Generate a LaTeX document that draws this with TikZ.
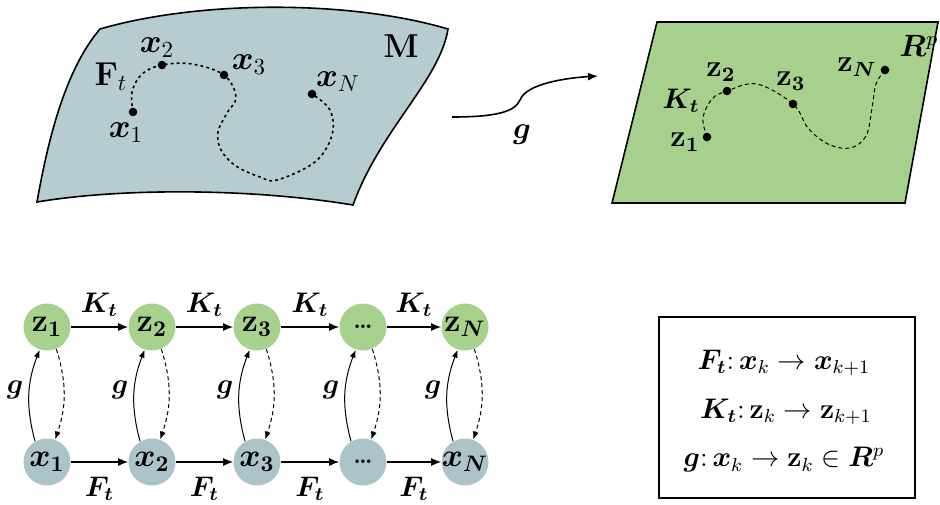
\documentclass[tikz,border=0pt]{standalone}
\usepackage{amsmath,bm}
\usetikzlibrary{arrows.meta}
\definecolor{manif}{HTML}{B7CCD1}
\definecolor{plane}{HTML}{A8D08D}
\definecolor{zgreen}{HTML}{A9D18E}
\definecolor{xgray}{HTML}{ADC3CA}
\begin{document}
\begin{tikzpicture}[x=0.5pt,y=-0.5pt,
  lbl/.style={font=\Large, inner sep=0pt, scale=1.15},
  blbl/.style={font=\large, inner sep=0pt, scale=1.18},
  plbl/.style={font=\large, inner sep=0pt, scale=1.28},
  dotpt/.style={fill=black, circle, inner sep=0pt, minimum size=4.3pt},
  znode/.style={circle, fill=zgreen, minimum size=23.5pt, inner sep=0pt},
  xnode/.style={circle, fill=xgray, minimum size=23.5pt, inner sep=0pt},
  ntext/.style={font=\Large, inner sep=0pt, scale=1.12},
  harr/.style={-{Latex[length=5pt,width=4pt]}, line width=0.6pt},
  garr/.style={-{Latex[length=4pt,width=3pt]}, line width=0.5pt},
  darr/.style={-{Latex[length=4pt,width=3pt]}, line width=0.5pt, dash pattern=on 2pt off 1.5pt},
  dotline/.style={line width=0.8pt, dash pattern=on 1.4pt off 1.6pt},
  dashline/.style={line width=0.5pt, dash pattern=on 2pt off 1.5pt}]
\useasboundingbox (0,0) rectangle (940,504);

% manifold
\draw[fill=manif, line width=0.8pt] (100,29) .. controls (200,0) and (350,0) .. (448,29)
  .. controls (440,80) and (380,130) .. (353,205)
  .. controls (250,188) and (120,188) .. (37,202)
  .. controls (48,140) and (65,70) .. (100,29) -- cycle;
\draw[dotline] plot[smooth, tension=0.6] coordinates {(133,112) (132,92) (142,74) (162,65) (192,64) (224,75) (236,97) (227,113) (218,132) (221,150) (236,166) (260,177) (277,180) (315,162) (332,135) (330,110) (312,94)};
\node[dotpt] (x1p) at (133,112) {};
\node[dotpt] (x2p) at (162,65) {};
\node[dotpt] (x3p) at (224,75) {};
\node[dotpt] (xNp) at (312,94) {};
\node[lbl] (lx1) at (126,133) {$\bm{x}_1$};
\node[lbl] (lx2) at (157,48) {$\bm{x}_2$};
\node[lbl] (lx3) at (249,65) {$\bm{x}_3$};
\node[lbl] (lxN) at (338,82) {$\bm{x}_N$};
\node[lbl] (lF) at (111,77) {$\mathbf{F}_t$};
\node[lbl] (lM) at (401,46) {$\mathbf{M}$};

% mapping arrow g
\coordinate (gs) at (452,117);
\coordinate (ge) at (598,76);
\draw[-{Latex[length=5pt,width=4pt]}, line width=0.8pt] (gs) .. controls (495,117) and (515,112) .. (520,100)
  .. controls (526,84) and (565,78) .. (ge);
\node[plbl] (lg) at (522,135) {$\bm{g}$};

% plane
\draw[fill=plane, line width=0.8pt] (657,22) -- (938,22) -- (905,203) -- (612,203) -- cycle;
\draw[dashline] plot[smooth, tension=0.6] coordinates {(707,137) (703,118) (712,99) (727,91) (757,84) (793,104) (808,128) (828,144) (850,148) (866,136) (872,108) (876,84) (885,70)};
\node[dotpt] (z1p) at (707,137) {};
\node[dotpt] (z2p) at (727,91) {};
\node[dotpt] (z3p) at (793,104) {};
\node[dotpt] (zNp) at (885,70) {};
\node[plbl] (lz1) at (685,142) {$\mathbf{z}_{\mathbf{1}}$};
\node[plbl] (lz2) at (721,72) {$\mathbf{z}_{\mathbf{2}}$};
\node[plbl] (lz3) at (791,81) {$\mathbf{z}_{\mathbf{3}}$};
\node[plbl] (lzN) at (857,67) {$\mathbf{z}_{\bm{N}}$};
\node[blbl] (lK) at (681,101) {$\bm{K_t}$};
\node[plbl] (lR) at (919,46) {$\bm{R}^{p}$};

% chain
\foreach \i/\px/\zl/\xl in {1/47/{$\mathbf{z}_{\mathbf{1}}$}/{$\bm{x}_{\mathbf{1}}$},
                            2/152/{$\mathbf{z}_{\mathbf{2}}$}/{$\bm{x}_{\mathbf{2}}$},
                            3/257/{$\mathbf{z}_{\mathbf{3}}$}/{$\bm{x}_{\mathbf{3}}$},
                            4/363/{\normalsize\textbf{\ldots}}/{\normalsize\textbf{\ldots}},
                            5/465/{$\mathbf{z}_{\bm{N}}$}/{$\bm{x}_{\bm{N}}$}} {
  \node[znode] (z\i) at (\px,327) {};
  \node[ntext] (zt\i) at (z\i) {\zl};
  \node[xnode] (x\i) at (\px,462) {};
  \node[ntext] (xt\i) at (x\i) {\xl};
  \draw[garr] (x\i.120) to[bend left=18] (z\i.252);
  \draw[darr] (z\i.293) to[bend left=18] (x\i.70);
  \node[blbl] (g\i) at (\px-32,390) {$\bm{g}$};
}
\foreach \i/\j in {1/2,2/3,3/4,4/5} {
  \draw[harr] (z\i) -- (z\j) node[midway, above=5pt, blbl] (K\i) {$\bm{K_t}$};
  \draw[harr] (x\i) -- (x\j) node[midway, below=7pt, blbl] (F\i) {$\bm{F_t}$};
}

% legend box
\node[draw, line width=0.8pt, minimum width=128pt, minimum height=90.5pt] (box) at (787,407.5) {};
\node[blbl] (l1) at (784,363) {$\bm{F_t}{:}\,\bm{x}_k \rightarrow \bm{x}_{k+1}$};
\node[blbl] (l2) at (786,412) {$\bm{K_t}{:}\,\mathbf{z}_k \rightarrow \mathbf{z}_{k+1}$};
\node[blbl] (l3) at (784,460) {$\bm{g}{:}\,\bm{x}_k \rightarrow \mathbf{z}_k \in \bm{R}^{p}$};
\end{tikzpicture}
\end{document}
